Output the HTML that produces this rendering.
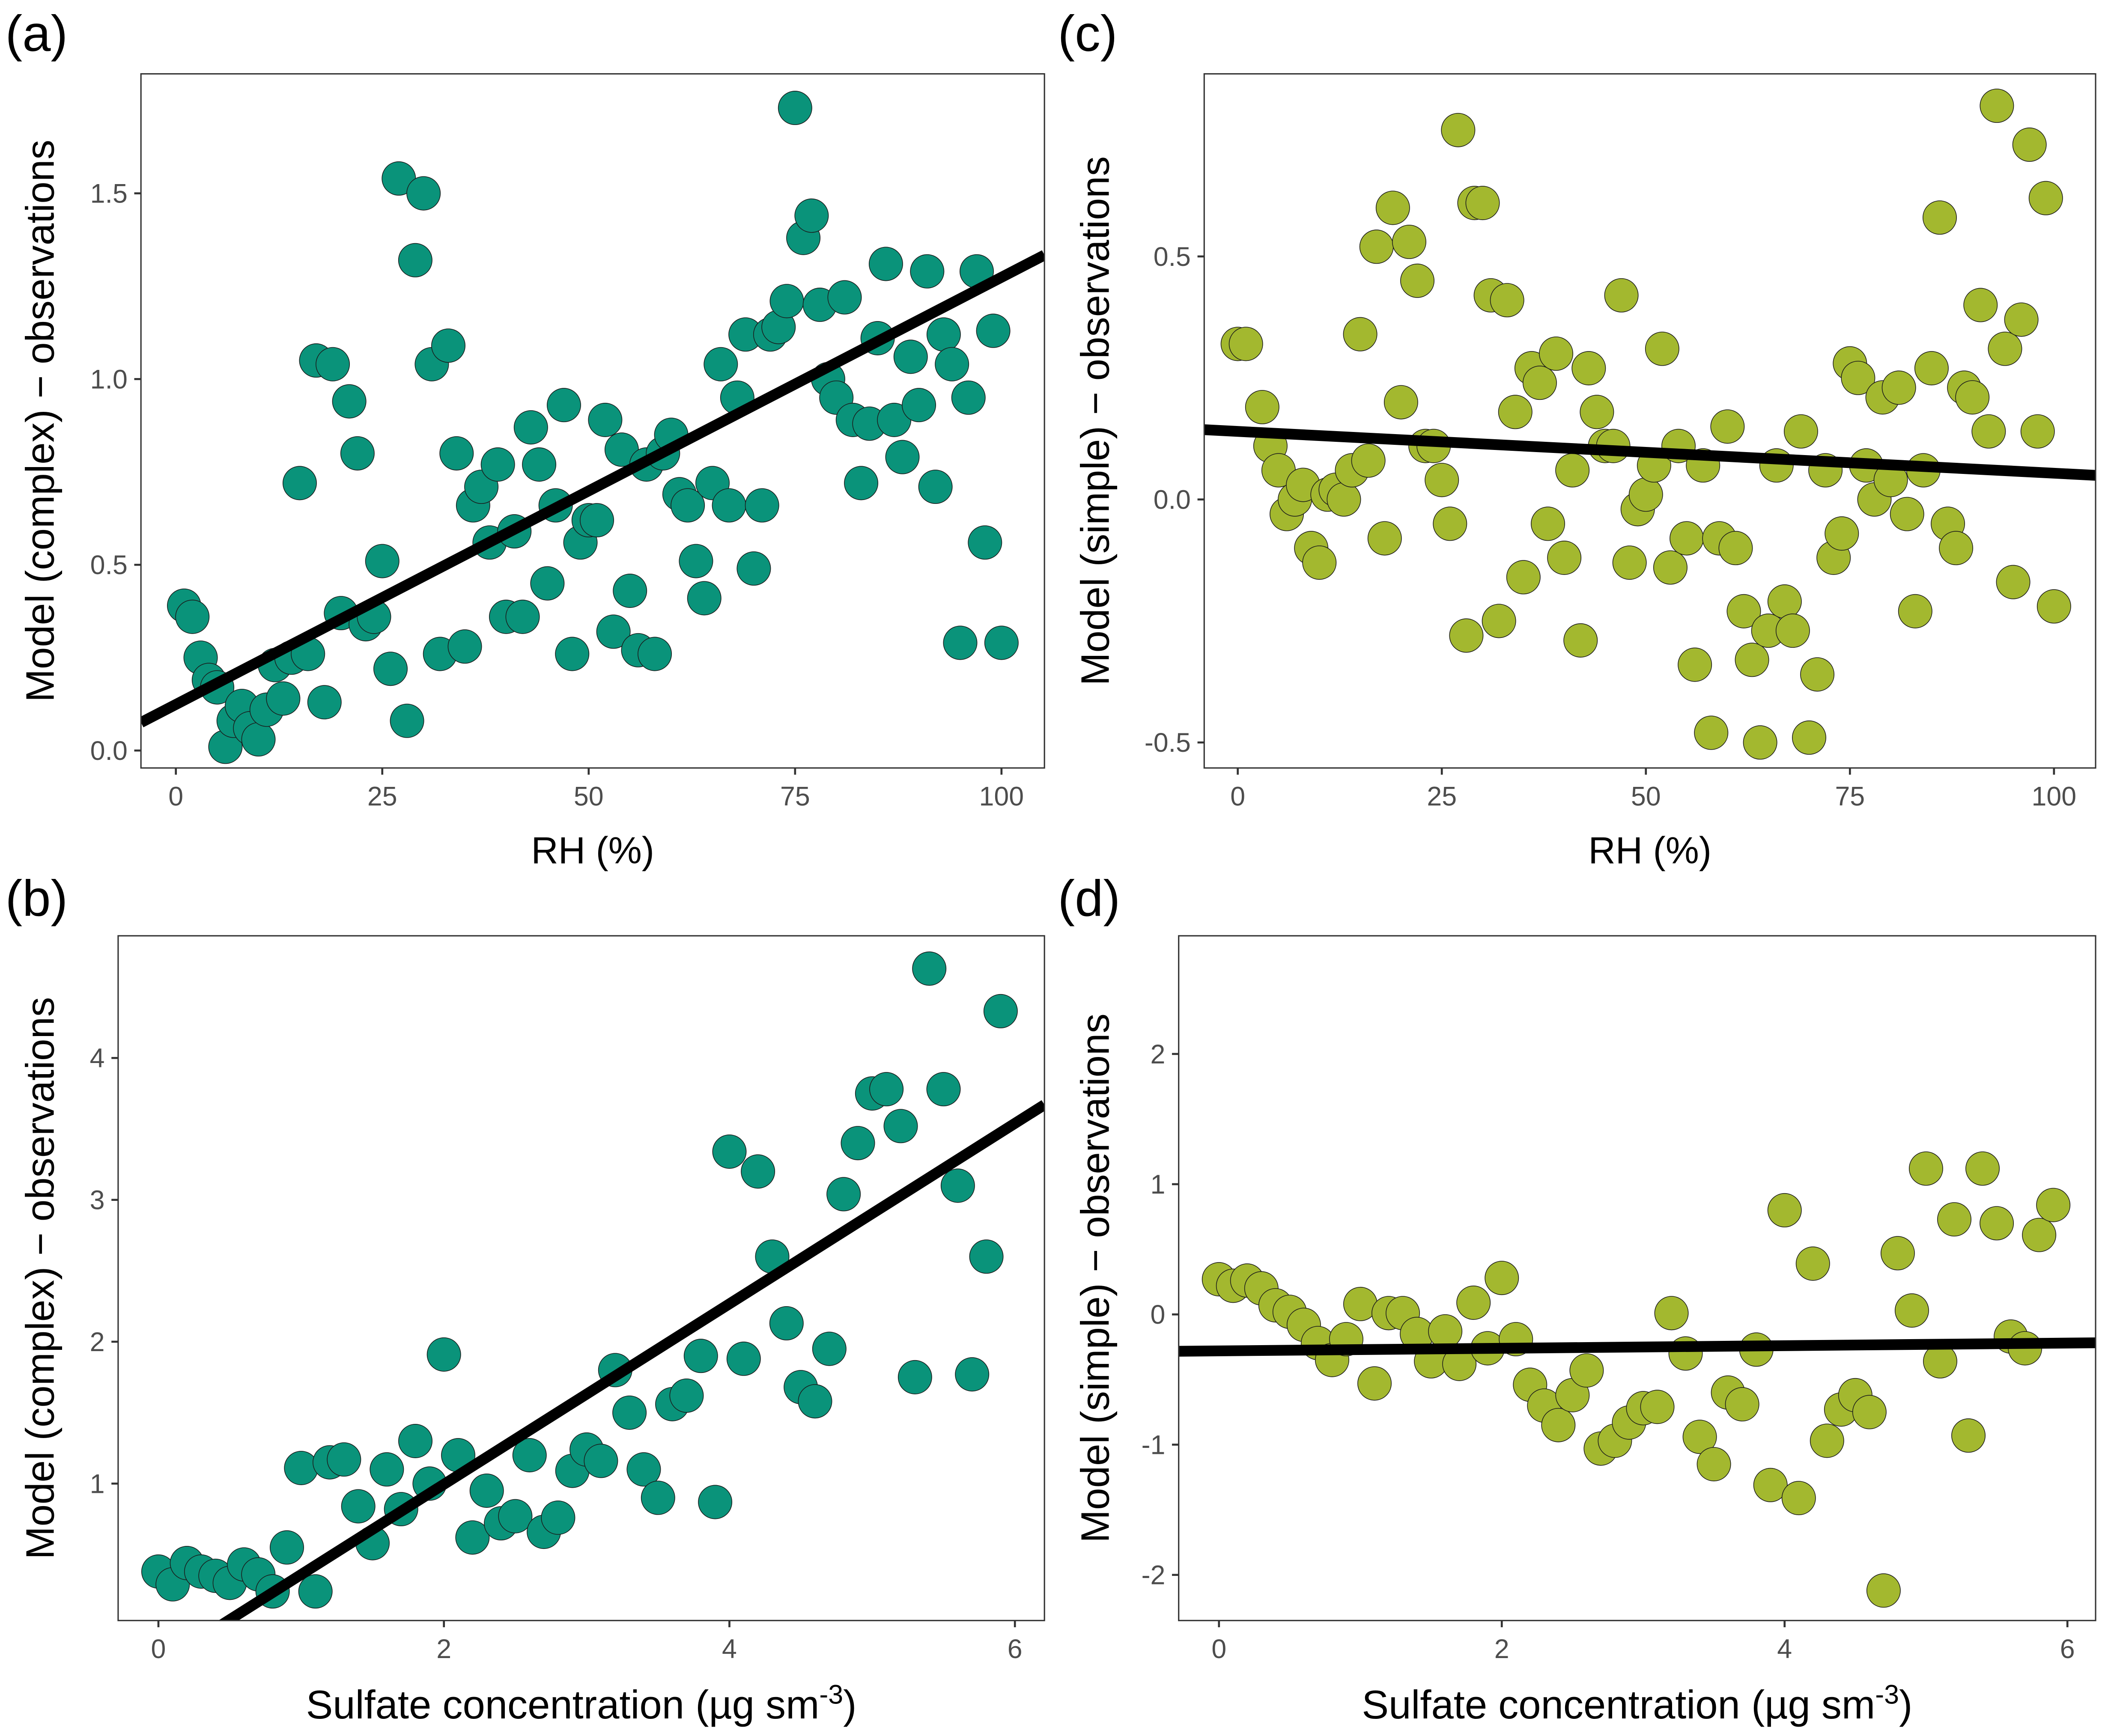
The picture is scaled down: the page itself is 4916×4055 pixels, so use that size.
<!DOCTYPE html>
<html><head><meta charset="utf-8">
<style>
html,body{margin:0;padding:0;background:#fff;}
svg{display:block;}
text{font-family:"Liberation Sans",sans-serif;}
</style></head>
<body>
<svg id="fig" width="4916" height="4055" viewBox="0 0 1568 1293" preserveAspectRatio="none" xmlns="http://www.w3.org/2000/svg"></svg>
<script>
// Panel (a)
const aX=[1,2,3,4,5,6,7,8,9,10,11,12,13,14,15,16,17,18,19,20,21,22,23,24,25,26,27,28,29,30,31,32,33,34,35,36,37,38,39,40,41,42,43,44,45,46,47,48,49,50,51,52,53,54,55,56,57,58,59,60,61,62,63,64,65,66,67,68,69,70,71,72,73,74,75,76,77,78,79,80,81,82,83,84,85,86,87,88,89,90,91,92,93,94,95,96,97,98,99,100];
const aY=[0.39,0.36,0.25,0.19,0.17,0.01,0.08,0.12,0.06,0.03,0.11,0.23,0.14,0.25,0.72,0.26,1.05,0.13,1.04,0.37,0.94,0.80,0.34,0.36,0.51,0.22,1.54,0.08,1.32,1.50,1.04,0.26,1.09,0.80,0.28,0.66,0.71,0.56,0.77,0.36,0.59,0.36,0.87,0.77,0.45,0.66,0.93,0.26,0.56,0.62,0.62,0.89,0.32,0.81,0.43,0.27,0.77,0.26,0.80,0.85,0.69,0.66,0.51,0.41,0.72,1.04,0.66,0.95,1.12,0.49,0.66,1.12,1.14,1.21,1.73,1.38,1.44,1.20,1.00,0.95,1.22,0.89,0.72,0.88,1.11,1.31,0.89,0.79,1.06,0.93,1.29,0.71,1.12,1.04,0.29,0.95,1.29,0.56,1.13,0.29];
const aFit=[0.0115,0.124];
const aXTicks=[0,25,50,75,100];
const aYTicks=[0.0,0.5,1.0,1.5];
const aYLabels=["0.0","0.5","1.0","1.5"];
// Panel (c)
const cX=[0,1,3,4,5,6,7,8,9,10,11,12,13,14,15,16,17,18,19,20,21,22,23,24,25,26,27,28,29,30,31,32,33,34,35,36,37,38,39,40,41,42,43,44,45,46,47,48,49,50,51,52,53,54,55,56,57,58,59,60,61,62,63,64,65,66,67,68,69,70,71,72,73,74,75,76,77,78,79,80,81,82,83,84,85,86,87,88,89,90,91,92,93,94,95,96,97,98,99,100];
const cY=[0.32,0.32,0.19,0.11,0.06,-0.03,0.00,0.03,-0.10,-0.13,0.01,0.02,0.00,0.06,0.34,0.08,0.52,-0.08,0.60,0.20,0.53,0.45,0.11,0.11,0.04,-0.05,0.76,-0.28,0.61,0.61,0.42,-0.25,0.41,0.18,-0.16,0.27,0.24,-0.05,0.30,-0.12,0.06,-0.29,0.27,0.18,0.11,0.11,0.42,-0.13,-0.02,0.01,0.07,0.31,-0.14,0.11,-0.08,-0.34,0.07,-0.48,-0.08,0.15,-0.10,-0.23,-0.33,-0.50,-0.27,0.07,-0.21,-0.27,0.14,-0.49,-0.36,0.06,-0.12,-0.07,0.28,0.25,0.07,0.00,0.21,0.04,0.23,-0.03,-0.23,0.06,0.27,0.58,-0.05,-0.10,0.23,0.21,0.40,0.14,0.81,0.31,-0.17,0.37,0.73,0.14,0.62,-0.22];
const cFit=[-0.00086,0.140];
const cXTicks=[0,25,50,75,100];
const cYTicks=[-0.5,0.0,0.5];
const cYLabels=["-0.5","0.0","0.5"];
// Panel (b)
const bX=[0,0.1,0.2,0.3,0.4,0.5,0.6,0.7,0.8,0.9,1.0,1.1,1.2,1.3,1.4,1.5,1.6,1.7,1.8,1.9,2.0,2.1,2.2,2.3,2.4,2.5,2.6,2.7,2.8,2.9,3.0,3.1,3.2,3.3,3.4,3.5,3.6,3.7,3.8,3.9,4.0,4.1,4.2,4.3,4.4,4.5,4.6,4.7,4.8,4.9,5.0,5.1,5.2,5.3,5.4,5.5,5.6,5.7,5.8,5.9];
const bY=[0.38,0.29,0.44,0.38,0.35,0.30,0.43,0.36,0.24,0.55,1.11,0.24,1.15,1.17,0.84,0.58,1.10,0.82,1.30,1.00,1.91,1.20,0.62,0.95,0.72,0.77,1.20,0.66,0.76,1.09,1.24,1.16,1.80,1.50,1.10,0.90,1.56,1.62,1.90,0.87,3.34,1.88,3.20,2.60,2.13,1.68,1.58,1.95,3.04,3.40,3.75,3.78,3.52,1.75,4.63,3.78,3.10,1.77,2.60,4.33];
const bFit=[0.636,-0.277];
const bXTicks=[0,2,4,6];
const bYTicks=[1,2,3,4];
const bYLabels=["1","2","3","4"];
// Panel (d)
const dX=[0,0.1,0.2,0.3,0.4,0.5,0.6,0.7,0.8,0.9,1.0,1.1,1.2,1.3,1.4,1.5,1.6,1.7,1.8,1.9,2.0,2.1,2.2,2.3,2.4,2.5,2.6,2.7,2.8,2.9,3.0,3.1,3.2,3.3,3.4,3.5,3.6,3.7,3.8,3.9,4.0,4.1,4.2,4.3,4.4,4.5,4.6,4.7,4.8,4.9,5.0,5.1,5.2,5.3,5.4,5.5,5.6,5.7,5.8,5.9];
const dY=[0.27,0.22,0.26,0.20,0.07,0.02,-0.08,-0.22,-0.35,-0.19,0.08,-0.53,0.01,0.01,-0.15,-0.36,-0.13,-0.38,0.09,-0.26,0.28,-0.19,-0.54,-0.70,-0.85,-0.62,-0.43,-1.03,-0.97,-0.83,-0.72,-0.71,0.01,-0.30,-0.94,-1.15,-0.60,-0.69,-0.27,-1.31,0.80,-1.41,0.39,-0.97,-0.73,-0.62,-0.75,-2.12,0.47,0.03,1.12,-0.36,0.73,-0.93,1.12,0.70,-0.17,-0.26,0.61,0.84];
const dFit=[0.01,-0.28];
const dXTicks=[0,2,4,6];
const dYTicks=[-2,-1,0,1,2];
const dYLabels=["-2","-1","0","1","2"];

const NS="http://www.w3.org/2000/svg";
const svg=document.getElementById('fig');
function mk(tag,attrs,parent){const e=document.createElementNS(NS,tag);for(const k in attrs)e.setAttribute(k,attrs[k]);(parent||svg).appendChild(e);return e;}

function panel(cfg){
  const g=mk('g',{});
  
  
  const sx=v=>cfg.x0px+(v-cfg.x0)*(cfg.x1px-cfg.x0px)/(cfg.x1-cfg.x0);
  const sy=v=>cfg.y0px+(v-cfg.y0)*(cfg.y1px-cfg.y0px)/(cfg.y1-cfg.y0);
  const B=cfg.box;
  const clipId='clip'+cfg.id;
  const cp=mk('clipPath',{id:clipId},g);
  mk('rect',{x:B[0],y:B[1],width:B[2]-B[0],height:B[3]-B[1]},cp);
  const pg=mk('g',{'clip-path':'url(#'+clipId+')'},g);
  for(let i=0;i<cfg.xs.length;i++){
    const c=mk('circle',{cx:sx(cfg.xs[i]),cy:sy(cfg.ys[i]),r:12.5,fill:cfg.color,stroke:'#1a1a1a','stroke-width':0.5},pg);
    
    
  }
  const xa=(B[0]-cfg.x0px)*(cfg.x1-cfg.x0)/(cfg.x1px-cfg.x0px)+cfg.x0;
  const xb=(B[2]-cfg.x0px)*(cfg.x1-cfg.x0)/(cfg.x1px-cfg.x0px)+cfg.x0;
  const ln=mk('line',{x1:sx(xa),y1:sy(cfg.fit[0]*xa+cfg.fit[1]),x2:sx(xb),y2:sy(cfg.fit[0]*xb+cfg.fit[1]),stroke:'#000','stroke-width':8},pg);
  
  
  const bx=mk('rect',{x:B[0],y:B[1],width:B[2]-B[0],height:B[3]-B[1],fill:'none',stroke:'#333','stroke-width':1},g);
  
  
  cfg.xt.forEach((t,i)=>{
    mk('line',{x1:sx(t),x2:sx(t),y1:B[3],y2:B[3]+5,stroke:'#333','stroke-width':1.5},g);
    const tx=mk('text',{x:sx(t),y:B[3]+28,'font-size':20,fill:'#4d4d4d','text-anchor':'middle'},g);
    tx.textContent=String(t);
    
    
  });
  cfg.yt.forEach((t,i)=>{
    mk('line',{x1:B[0]-5,x2:B[0],y1:sy(t),y2:sy(t),stroke:'#333','stroke-width':1.5},g);
    const tx=mk('text',{x:B[0]-10,y:sy(t)+7,'font-size':20,fill:'#4d4d4d','text-anchor':'end'},g);
    tx.textContent=cfg.yl[i];
    
    
  });
  const xt=mk('text',{x:(B[0]+B[2])/2,y:cfg.xtY,'font-size':cfg.xfs,fill:'#000','text-anchor':'middle'},g);
  xt.innerHTML=cfg.xtitle;
  
  
  const yc=(B[1]+B[3])/2;
  const yt=mk('text',{x:cfg.ytX,y:yc,'font-size':29.5,fill:'#000','text-anchor':'middle',transform:'rotate(-90 '+cfg.ytX+' '+yc+')'},g);
  yt.textContent=cfg.ytitle;
  
  
  const pl=mk('text',{x:cfg.lab[0],y:cfg.lab[1],'font-size':38,fill:'#000'},g);
  pl.textContent='('+cfg.id+')';
  
  
}
const G='#0a937a', O='#a3b82f';
const sulf='Sulfate concentration (µg sm<tspan dy="-11" font-size="20">-3</tspan><tspan dy="11">)</tspan>';
panel({id:'a',xs:aX,ys:aY,fit:aFit,xt:aXTicks,yt:aYTicks,yl:aYLabels,color:G,box:[105,55,778,572],
  x0:0,x1:100,x0px:131,x1px:746,y0:0,y1:1.5,y0px:559,y1px:144,
  xtitle:'RH (%)',xtY:643,xfs:28,ytitle:'Model (complex) − observations',ytX:40,lab:[4,38]});
panel({id:'c',xs:cX,ys:cY,fit:cFit,xt:cXTicks,yt:cYTicks,yl:cYLabels,color:O,box:[897,55,1561,572],
  x0:0,x1:100,x0px:922,x1px:1530,y0:0,y1:0.5,y0px:372,y1px:191,
  xtitle:'RH (%)',xtY:643,xfs:28,ytitle:'Model (simple) − observations',ytX:826,lab:[788,38]});
panel({id:'b',xs:bX,ys:bY,fit:bFit,xt:bXTicks,yt:bYTicks,yl:bYLabels,color:G,box:[88,697,778,1207],
  x0:0,x1:6,x0px:118,x1px:756,y0:1,y1:4,y0px:1105,y1px:788,
  xtitle:sulf,xtY:1280,xfs:30,ytitle:'Model (complex) − observations',ytX:40,lab:[4,682]});
panel({id:'d',xs:dX,ys:dY,fit:dFit,xt:dXTicks,yt:dYTicks,yl:dYLabels,color:O,box:[878,697,1561,1207],
  x0:0,x1:6,x0px:908,x1px:1540,y0:0,y1:2,y0px:979,y1px:785,
  xtitle:sulf,xtY:1280,xfs:30,ytitle:'Model (simple) − observations',ytX:826,lab:[788,682]});
</script>
</body></html>
